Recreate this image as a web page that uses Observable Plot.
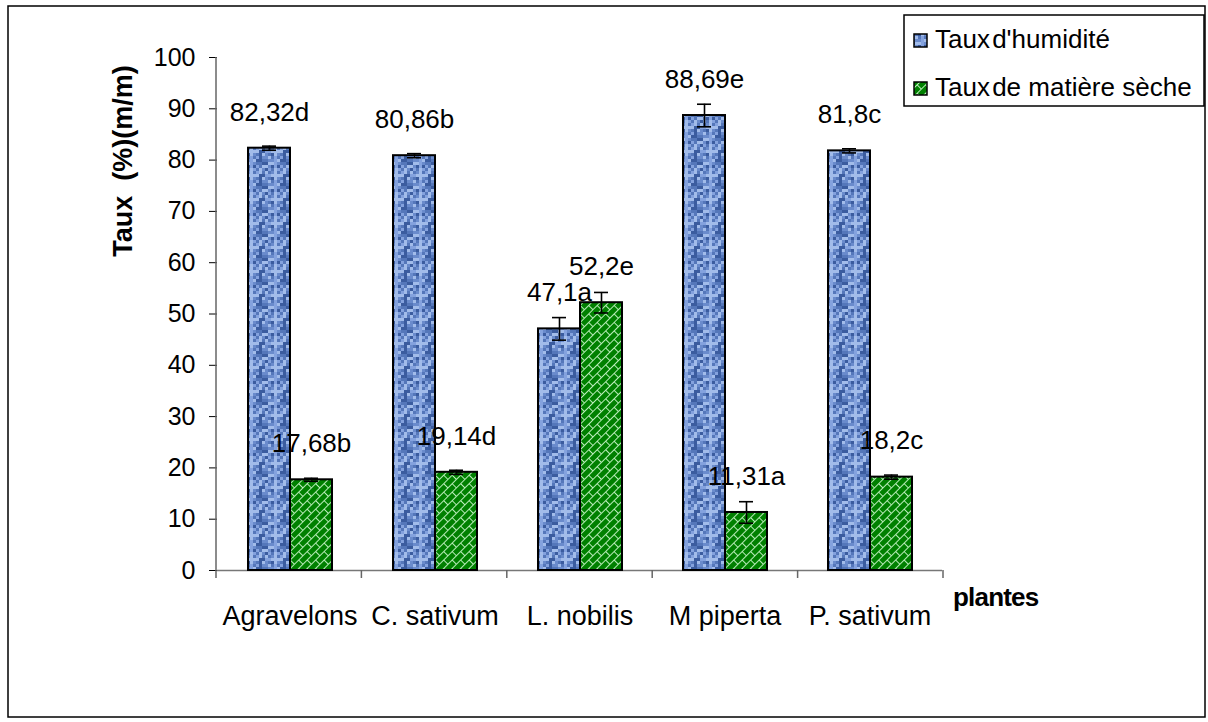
<!DOCTYPE html>
<html lang="fr">
<head>
<meta charset="utf-8">
<title>Taux d'humidité et de matière sèche</title>
<script src="https://cdn.jsdelivr.net/npm/d3@7"></script>
<script src="https://cdn.jsdelivr.net/npm/@observablehq/plot@0.6"></script>
<style>
  html, body { margin: 0; padding: 0; background: #fff; overflow: hidden; }
  #chart svg { display: block; }
</style>
</head>
<body>
<div id="chart"></div>
<script>
// Plantes étudiées et séries mesurées
const plants = ["Agravelons", "C. sativum", "L. nobilis", "M piperta", "P. sativum"];
const series = ["Taux d'humidité", "Taux de matière sèche"];

// Moyennes (% m/m), écarts et lettres de significativité
const humidite = [82.32, 80.86, 47.1, 88.69, 81.8];
const matiereSeche = [17.68, 19.14, 52.2, 11.31, 18.2];
const errHumidite = [0.4, 0.4, 2.2, 2.2, 0.4];
const errMatiereSeche = [0.3, 0.4, 2.0, 2.1, 0.4];
const lettresHumidite = ["d", "b", "a", "e", "c"];
const lettresMatiereSeche = ["b", "d", "e", "a", "c"];

const yTicks = [0, 10, 20, 30, 40, 50, 60, 70, 80, 90, 100];

const FONT = "'Liberation Sans', Arial, Helvetica, sans-serif";

const fmt = v => String(v).replace(".", ",");

const rows = plants.flatMap((plant, i) => [
  {plant, serie: series[0], value: humidite[i], err: errHumidite[i], label: fmt(humidite[i]) + lettresHumidite[i]},
  {plant, serie: series[1], value: matiereSeche[i], err: errMatiereSeche[i], label: fmt(matiereSeche[i]) + lettresMatiereSeche[i]}
]);
const rowsHum = rows.filter(d => d.serie === series[0]);
const rowsSec = rows.filter(d => d.serie === series[1]);

const lo = d => d.value - d.err;
const hi = d => d.value + d.err;

const chart = Plot.plot({
  width: 1208,
  height: 722,
  marginLeft: 216,
  marginRight: 265,
  marginTop: 57,
  marginBottom: 152,
  style: {fontFamily: FONT, fontSize: "25px", background: "#fff", color: "#000", overflow: "visible"},
  fx: {domain: plants, padding: 0, label: null, tickSize: 0, tickPadding: 35},
  x: {domain: series, paddingInner: 0, paddingOuter: 0.69, axis: null},
  y: {domain: [0, 100], ticks: yTicks, tickSize: 8, tickPadding: 14, label: null, tickFormat: d => String(d)},
  marks: [
    Plot.ruleY([0], {stroke: "#777", strokeWidth: 1.5}),
    Plot.barY(rowsHum, {fx: "plant", x: "serie", y: "value", fill: "url(#texHum)", stroke: "#000", strokeWidth: 2}),
    Plot.barY(rowsSec, {fx: "plant", x: "serie", y: "value", fill: "url(#texSec)", stroke: "#000", strokeWidth: 2}),
    Plot.ruleX(rows, {fx: "plant", x: "serie", y1: lo, y2: hi, stroke: "#000", strokeWidth: 1.6}),
    Plot.tickY(rows, {fx: "plant", x: "serie", y: lo, stroke: "#000", strokeWidth: 1.6, insetLeft: 14, insetRight: 14}),
    Plot.tickY(rows, {fx: "plant", x: "serie", y: hi, stroke: "#000", strokeWidth: 1.6, insetLeft: 14, insetRight: 14}),
    Plot.text(rows, {fx: "plant", x: "serie", y: "value", text: "label", dy: -36, fontSize: 26, fill: "#000"})
  ]
});

document.getElementById("chart").appendChild(chart);

const svg = d3.select(chart.tagName.toLowerCase() === "svg" ? chart : chart.querySelector("svg"));

// Étiquettes des plantes un peu plus grandes que les graduations
svg.selectAll("text")
  .filter(function () { return plants.includes(this.textContent); })
  .attr("font-size", 27);

// Motifs de remplissage : texture bleue et briques diagonales vertes
const defs = svg.insert("defs", ":first-child");
const shades = ["#3b5c9f", "#5577ba", "#6a8bcc", "#84a2de", "#a2bcea"];
const cell = 3, n = 8;
const pHum = defs.append("pattern")
  .attr("id", "texHum").attr("patternUnits", "userSpaceOnUse")
  .attr("width", cell * n).attr("height", cell * n);
for (let i = 0; i < n; i++) {
  for (let j = 0; j < n; j++) {
    const k = (i * 7 + j * 13 + ((i * j) % 5) + ((i ^ j) & 3)) % shades.length;
    pHum.append("rect").attr("x", i * cell).attr("y", j * cell)
      .attr("width", cell).attr("height", cell).attr("fill", shades[k]);
  }
}
const pSec = defs.append("pattern")
  .attr("id", "texSec").attr("patternUnits", "userSpaceOnUse")
  .attr("width", 12).attr("height", 12)
  .attr("patternTransform", "rotate(-45)");
pSec.append("rect").attr("width", 12).attr("height", 12).attr("fill", "#008000");
pSec.append("path")
  .attr("d", "M0,0.5H12M0,6.5H12M0.5,0V6.5M6.5,6.5V12")
  .attr("stroke", "#b9ecb9").attr("stroke-width", 1).attr("fill", "none");

// Axe vertical et graduations de séparation des plantes
const yScale = chart.scale("y");
const fxScale = chart.scale("fx");
const y0 = yScale.apply(0), y100 = yScale.apply(100);
const [xa, xb] = fxScale.range;
const step = (xb - xa) / plants.length;
const axes = svg.append("g").attr("stroke", "#666").attr("stroke-width", 1.5);
axes.append("line").attr("x1", xa).attr("x2", xa).attr("y1", y100).attr("y2", y0);
for (let k = 0; k <= plants.length; k++) {
  const x = xa + k * step;
  axes.append("line").attr("x1", x).attr("x2", x).attr("y1", y0).attr("y2", y0 + 8);
}

// Titres des axes
svg.append("text")
  .attr("transform", `translate(132, 161) rotate(-90)`)
  .attr("text-anchor", "middle")
  .attr("font-family", FONT).attr("font-weight", "bold").attr("font-size", 27)
  .attr("fill", "#000")
  .attr("xml:space", "preserve")
  .text("Taux  (%)(m/m)");
svg.append("text")
  .attr("x", 953).attr("y", 606)
  .attr("text-anchor", "start")
  .attr("font-family", FONT).attr("font-weight", "bold").attr("font-size", 26)
  .attr("letter-spacing", -0.8)
  .attr("fill", "#000")
  .text("plantes");

// Cadre extérieur
svg.append("rect")
  .attr("x", 8).attr("y", 6).attr("width", 1197).attr("height", 711)
  .attr("fill", "none").attr("stroke", "#000").attr("stroke-width", 1.5);

// Légende : le premier mot est serré contre la suite du libellé
const legend = svg.append("g").attr("text-anchor", "start");
legend.append("rect")
  .attr("x", 904).attr("y", 15).attr("width", 300).attr("height", 91)
  .attr("fill", "#fff").attr("stroke", "#000").attr("stroke-width", 1.5);
const legendItems = [
  {label: series[0], fill: "url(#texHum)", y: 48},
  {label: series[1], fill: "url(#texSec)", y: 96}
];
legendItems.forEach(it => {
  legend.append("rect")
    .attr("x", 914).attr("y", it.y - 14).attr("width", 13).attr("height", 13)
    .attr("fill", it.fill).attr("stroke", "#000").attr("stroke-width", 1.5);
  const cut = it.label.indexOf(" ");
  const t = legend.append("text")
    .attr("x", 935).attr("y", it.y)
    .attr("text-anchor", "start")
    .attr("font-family", FONT).attr("font-size", 26)
    .attr("fill", "#000");
  t.append("tspan").text(it.label.slice(0, cut));
  t.append("tspan").attr("dx", -5).text(it.label.slice(cut));
});
</script>
</body>
</html>
